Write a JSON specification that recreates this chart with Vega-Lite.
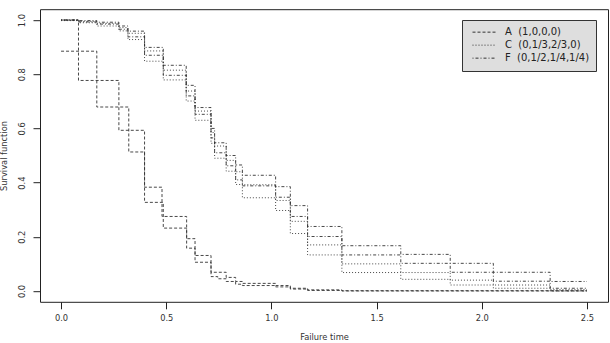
{
  "$schema": "https://vega.github.io/schema/vega-lite/v6.json",
  "width": 568,
  "height": 292.6,
  "autosize": {"type": "none"},
  "padding": {"left": 40, "top": 9.2, "right": 2, "bottom": 41.2},
  "background": "white",
  "config": {
    "view": {"stroke": "#222", "strokeWidth": 1},
    "font": "DejaVu Sans",
    "axis": {
      "domain": false,
      "grid": false,
      "tickColor": "#222",
      "tickSize": 7,
      "labelFont": "DejaVu Sans",
      "labelFontSize": 8.3,
      "labelColor": "#333",
      "titleFont": "DejaVu Sans",
      "titleFontSize": 8.3,
      "titleFontWeight": "normal",
      "titleColor": "#333"
    }
  },
  "data": {
    "values": [
      {"c": "A1", "d": "A\u00a0\u00a0(1,0,0,0)", "t": 0, "s": 1.0},
      {"c": "A1", "d": "A\u00a0\u00a0(1,0,0,0)", "t": 0.083, "s": 0.777},
      {"c": "A1", "d": "A\u00a0\u00a0(1,0,0,0)", "t": 0.275, "s": 0.593},
      {"c": "A1", "d": "A\u00a0\u00a0(1,0,0,0)", "t": 0.397, "s": 0.383},
      {"c": "A1", "d": "A\u00a0\u00a0(1,0,0,0)", "t": 0.48, "s": 0.275},
      {"c": "A1", "d": "A\u00a0\u00a0(1,0,0,0)", "t": 0.597, "s": 0.193},
      {"c": "A1", "d": "A\u00a0\u00a0(1,0,0,0)", "t": 0.637, "s": 0.131},
      {"c": "A1", "d": "A\u00a0\u00a0(1,0,0,0)", "t": 0.713, "s": 0.069},
      {"c": "A1", "d": "A\u00a0\u00a0(1,0,0,0)", "t": 0.785, "s": 0.05},
      {"c": "A1", "d": "A\u00a0\u00a0(1,0,0,0)", "t": 0.83, "s": 0.035},
      {"c": "A1", "d": "A\u00a0\u00a0(1,0,0,0)", "t": 0.862, "s": 0.028},
      {"c": "A1", "d": "A\u00a0\u00a0(1,0,0,0)", "t": 1.02, "s": 0.02},
      {"c": "A1", "d": "A\u00a0\u00a0(1,0,0,0)", "t": 1.09, "s": 0.01},
      {"c": "A1", "d": "A\u00a0\u00a0(1,0,0,0)", "t": 1.172, "s": 0.004},
      {"c": "A1", "d": "A\u00a0\u00a0(1,0,0,0)", "t": 1.335, "s": 0.001},
      {"c": "A1", "d": "A\u00a0\u00a0(1,0,0,0)", "t": 2.5, "s": 0.001},

      {"c": "A2", "d": "A\u00a0\u00a0(1,0,0,0)", "t": 0, "s": 0.885},
      {"c": "A2", "d": "A\u00a0\u00a0(1,0,0,0)", "t": 0.17, "s": 0.679},
      {"c": "A2", "d": "A\u00a0\u00a0(1,0,0,0)", "t": 0.322, "s": 0.513},
      {"c": "A2", "d": "A\u00a0\u00a0(1,0,0,0)", "t": 0.397, "s": 0.327},
      {"c": "A2", "d": "A\u00a0\u00a0(1,0,0,0)", "t": 0.486, "s": 0.232},
      {"c": "A2", "d": "A\u00a0\u00a0(1,0,0,0)", "t": 0.597, "s": 0.158},
      {"c": "A2", "d": "A\u00a0\u00a0(1,0,0,0)", "t": 0.637, "s": 0.106},
      {"c": "A2", "d": "A\u00a0\u00a0(1,0,0,0)", "t": 0.713, "s": 0.053},
      {"c": "A2", "d": "A\u00a0\u00a0(1,0,0,0)", "t": 0.745, "s": 0.045},
      {"c": "A2", "d": "A\u00a0\u00a0(1,0,0,0)", "t": 0.785, "s": 0.035},
      {"c": "A2", "d": "A\u00a0\u00a0(1,0,0,0)", "t": 0.83, "s": 0.025},
      {"c": "A2", "d": "A\u00a0\u00a0(1,0,0,0)", "t": 0.862, "s": 0.02},
      {"c": "A2", "d": "A\u00a0\u00a0(1,0,0,0)", "t": 1.02, "s": 0.015},
      {"c": "A2", "d": "A\u00a0\u00a0(1,0,0,0)", "t": 1.09, "s": 0.007},
      {"c": "A2", "d": "A\u00a0\u00a0(1,0,0,0)", "t": 1.172, "s": 0.002},
      {"c": "A2", "d": "A\u00a0\u00a0(1,0,0,0)", "t": 1.335, "s": 0.0},
      {"c": "A2", "d": "A\u00a0\u00a0(1,0,0,0)", "t": 2.5, "s": 0.0},

      {"c": "F1", "d": "F\u00a0\u00a0(0,1/2,1/4,1/4)", "t": 0, "s": 1.0},
      {"c": "F1", "d": "F\u00a0\u00a0(0,1/2,1/4,1/4)", "t": 0.085, "s": 0.998},
      {"c": "F1", "d": "F\u00a0\u00a0(0,1/2,1/4,1/4)", "t": 0.17, "s": 0.992},
      {"c": "F1", "d": "F\u00a0\u00a0(0,1/2,1/4,1/4)", "t": 0.275, "s": 0.978},
      {"c": "F1", "d": "F\u00a0\u00a0(0,1/2,1/4,1/4)", "t": 0.318, "s": 0.959},
      {"c": "F1", "d": "F\u00a0\u00a0(0,1/2,1/4,1/4)", "t": 0.397, "s": 0.899},
      {"c": "F1", "d": "F\u00a0\u00a0(0,1/2,1/4,1/4)", "t": 0.486, "s": 0.833},
      {"c": "F1", "d": "F\u00a0\u00a0(0,1/2,1/4,1/4)", "t": 0.595, "s": 0.759},
      {"c": "F1", "d": "F\u00a0\u00a0(0,1/2,1/4,1/4)", "t": 0.637, "s": 0.677},
      {"c": "F1", "d": "F\u00a0\u00a0(0,1/2,1/4,1/4)", "t": 0.713, "s": 0.6},
      {"c": "F1", "d": "F\u00a0\u00a0(0,1/2,1/4,1/4)", "t": 0.73, "s": 0.547},
      {"c": "F1", "d": "F\u00a0\u00a0(0,1/2,1/4,1/4)", "t": 0.785, "s": 0.5},
      {"c": "F1", "d": "F\u00a0\u00a0(0,1/2,1/4,1/4)", "t": 0.83, "s": 0.465},
      {"c": "F1", "d": "F\u00a0\u00a0(0,1/2,1/4,1/4)", "t": 0.862, "s": 0.427},
      {"c": "F1", "d": "F\u00a0\u00a0(0,1/2,1/4,1/4)", "t": 1.02, "s": 0.385},
      {"c": "F1", "d": "F\u00a0\u00a0(0,1/2,1/4,1/4)", "t": 1.09, "s": 0.315},
      {"c": "F1", "d": "F\u00a0\u00a0(0,1/2,1/4,1/4)", "t": 1.172, "s": 0.238},
      {"c": "F1", "d": "F\u00a0\u00a0(0,1/2,1/4,1/4)", "t": 1.335, "s": 0.167},
      {"c": "F1", "d": "F\u00a0\u00a0(0,1/2,1/4,1/4)", "t": 1.615, "s": 0.135},
      {"c": "F1", "d": "F\u00a0\u00a0(0,1/2,1/4,1/4)", "t": 1.85, "s": 0.102},
      {"c": "F1", "d": "F\u00a0\u00a0(0,1/2,1/4,1/4)", "t": 2.055, "s": 0.069},
      {"c": "F1", "d": "F\u00a0\u00a0(0,1/2,1/4,1/4)", "t": 2.325, "s": 0.035},
      {"c": "F1", "d": "F\u00a0\u00a0(0,1/2,1/4,1/4)", "t": 2.5, "s": 0.035},

      {"c": "F2", "d": "F\u00a0\u00a0(0,1/2,1/4,1/4)", "t": 0, "s": 1.0},
      {"c": "F2", "d": "F\u00a0\u00a0(0,1/2,1/4,1/4)", "t": 0.085, "s": 0.993},
      {"c": "F2", "d": "F\u00a0\u00a0(0,1/2,1/4,1/4)", "t": 0.17, "s": 0.985},
      {"c": "F2", "d": "F\u00a0\u00a0(0,1/2,1/4,1/4)", "t": 0.275, "s": 0.966},
      {"c": "F2", "d": "F\u00a0\u00a0(0,1/2,1/4,1/4)", "t": 0.318, "s": 0.938},
      {"c": "F2", "d": "F\u00a0\u00a0(0,1/2,1/4,1/4)", "t": 0.397, "s": 0.87},
      {"c": "F2", "d": "F\u00a0\u00a0(0,1/2,1/4,1/4)", "t": 0.486, "s": 0.796},
      {"c": "F2", "d": "F\u00a0\u00a0(0,1/2,1/4,1/4)", "t": 0.595, "s": 0.72},
      {"c": "F2", "d": "F\u00a0\u00a0(0,1/2,1/4,1/4)", "t": 0.637, "s": 0.652},
      {"c": "F2", "d": "F\u00a0\u00a0(0,1/2,1/4,1/4)", "t": 0.713, "s": 0.565},
      {"c": "F2", "d": "F\u00a0\u00a0(0,1/2,1/4,1/4)", "t": 0.73, "s": 0.51},
      {"c": "F2", "d": "F\u00a0\u00a0(0,1/2,1/4,1/4)", "t": 0.785, "s": 0.462},
      {"c": "F2", "d": "F\u00a0\u00a0(0,1/2,1/4,1/4)", "t": 0.83, "s": 0.41},
      {"c": "F2", "d": "F\u00a0\u00a0(0,1/2,1/4,1/4)", "t": 0.862, "s": 0.388},
      {"c": "F2", "d": "F\u00a0\u00a0(0,1/2,1/4,1/4)", "t": 1.02, "s": 0.346},
      {"c": "F2", "d": "F\u00a0\u00a0(0,1/2,1/4,1/4)", "t": 1.09, "s": 0.275},
      {"c": "F2", "d": "F\u00a0\u00a0(0,1/2,1/4,1/4)", "t": 1.172, "s": 0.201},
      {"c": "F2", "d": "F\u00a0\u00a0(0,1/2,1/4,1/4)", "t": 1.335, "s": 0.133},
      {"c": "F2", "d": "F\u00a0\u00a0(0,1/2,1/4,1/4)", "t": 1.615, "s": 0.102},
      {"c": "F2", "d": "F\u00a0\u00a0(0,1/2,1/4,1/4)", "t": 1.85, "s": 0.069},
      {"c": "F2", "d": "F\u00a0\u00a0(0,1/2,1/4,1/4)", "t": 2.055, "s": 0.036},
      {"c": "F2", "d": "F\u00a0\u00a0(0,1/2,1/4,1/4)", "t": 2.325, "s": 0.01},
      {"c": "F2", "d": "F\u00a0\u00a0(0,1/2,1/4,1/4)", "t": 2.5, "s": 0.01},

      {"c": "C1", "d": "C\u00a0\u00a0(0,1/3,2/3,0)", "t": 0, "s": 1.0},
      {"c": "C1", "d": "C\u00a0\u00a0(0,1/3,2/3,0)", "t": 0.085, "s": 0.995},
      {"c": "C1", "d": "C\u00a0\u00a0(0,1/3,2/3,0)", "t": 0.17, "s": 0.988},
      {"c": "C1", "d": "C\u00a0\u00a0(0,1/3,2/3,0)", "t": 0.275, "s": 0.972},
      {"c": "C1", "d": "C\u00a0\u00a0(0,1/3,2/3,0)", "t": 0.318, "s": 0.951},
      {"c": "C1", "d": "C\u00a0\u00a0(0,1/3,2/3,0)", "t": 0.397, "s": 0.886},
      {"c": "C1", "d": "C\u00a0\u00a0(0,1/3,2/3,0)", "t": 0.486, "s": 0.815},
      {"c": "C1", "d": "C\u00a0\u00a0(0,1/3,2/3,0)", "t": 0.595, "s": 0.738},
      {"c": "C1", "d": "C\u00a0\u00a0(0,1/3,2/3,0)", "t": 0.637, "s": 0.664},
      {"c": "C1", "d": "C\u00a0\u00a0(0,1/3,2/3,0)", "t": 0.713, "s": 0.585},
      {"c": "C1", "d": "C\u00a0\u00a0(0,1/3,2/3,0)", "t": 0.73, "s": 0.535},
      {"c": "C1", "d": "C\u00a0\u00a0(0,1/3,2/3,0)", "t": 0.785, "s": 0.482},
      {"c": "C1", "d": "C\u00a0\u00a0(0,1/3,2/3,0)", "t": 0.83, "s": 0.44},
      {"c": "C1", "d": "C\u00a0\u00a0(0,1/3,2/3,0)", "t": 0.862, "s": 0.392},
      {"c": "C1", "d": "C\u00a0\u00a0(0,1/3,2/3,0)", "t": 1.02, "s": 0.334},
      {"c": "C1", "d": "C\u00a0\u00a0(0,1/3,2/3,0)", "t": 1.09, "s": 0.257},
      {"c": "C1", "d": "C\u00a0\u00a0(0,1/3,2/3,0)", "t": 1.172, "s": 0.17},
      {"c": "C1", "d": "C\u00a0\u00a0(0,1/3,2/3,0)", "t": 1.335, "s": 0.1},
      {"c": "C1", "d": "C\u00a0\u00a0(0,1/3,2/3,0)", "t": 1.615, "s": 0.068},
      {"c": "C1", "d": "C\u00a0\u00a0(0,1/3,2/3,0)", "t": 1.85, "s": 0.04},
      {"c": "C1", "d": "C\u00a0\u00a0(0,1/3,2/3,0)", "t": 2.055, "s": 0.022},
      {"c": "C1", "d": "C\u00a0\u00a0(0,1/3,2/3,0)", "t": 2.325, "s": 0.005},
      {"c": "C1", "d": "C\u00a0\u00a0(0,1/3,2/3,0)", "t": 2.5, "s": 0.005},

      {"c": "C2", "d": "C\u00a0\u00a0(0,1/3,2/3,0)", "t": 0, "s": 0.998},
      {"c": "C2", "d": "C\u00a0\u00a0(0,1/3,2/3,0)", "t": 0.085, "s": 0.99},
      {"c": "C2", "d": "C\u00a0\u00a0(0,1/3,2/3,0)", "t": 0.17, "s": 0.978},
      {"c": "C2", "d": "C\u00a0\u00a0(0,1/3,2/3,0)", "t": 0.275, "s": 0.96},
      {"c": "C2", "d": "C\u00a0\u00a0(0,1/3,2/3,0)", "t": 0.318, "s": 0.928},
      {"c": "C2", "d": "C\u00a0\u00a0(0,1/3,2/3,0)", "t": 0.397, "s": 0.848},
      {"c": "C2", "d": "C\u00a0\u00a0(0,1/3,2/3,0)", "t": 0.486, "s": 0.779},
      {"c": "C2", "d": "C\u00a0\u00a0(0,1/3,2/3,0)", "t": 0.595, "s": 0.701},
      {"c": "C2", "d": "C\u00a0\u00a0(0,1/3,2/3,0)", "t": 0.637, "s": 0.63},
      {"c": "C2", "d": "C\u00a0\u00a0(0,1/3,2/3,0)", "t": 0.713, "s": 0.545},
      {"c": "C2", "d": "C\u00a0\u00a0(0,1/3,2/3,0)", "t": 0.73, "s": 0.49},
      {"c": "C2", "d": "C\u00a0\u00a0(0,1/3,2/3,0)", "t": 0.785, "s": 0.442},
      {"c": "C2", "d": "C\u00a0\u00a0(0,1/3,2/3,0)", "t": 0.83, "s": 0.393},
      {"c": "C2", "d": "C\u00a0\u00a0(0,1/3,2/3,0)", "t": 0.862, "s": 0.344},
      {"c": "C2", "d": "C\u00a0\u00a0(0,1/3,2/3,0)", "t": 1.02, "s": 0.297},
      {"c": "C2", "d": "C\u00a0\u00a0(0,1/3,2/3,0)", "t": 1.09, "s": 0.212},
      {"c": "C2", "d": "C\u00a0\u00a0(0,1/3,2/3,0)", "t": 1.172, "s": 0.133},
      {"c": "C2", "d": "C\u00a0\u00a0(0,1/3,2/3,0)", "t": 1.335, "s": 0.068},
      {"c": "C2", "d": "C\u00a0\u00a0(0,1/3,2/3,0)", "t": 1.615, "s": 0.043},
      {"c": "C2", "d": "C\u00a0\u00a0(0,1/3,2/3,0)", "t": 1.85, "s": 0.022},
      {"c": "C2", "d": "C\u00a0\u00a0(0,1/3,2/3,0)", "t": 2.055, "s": 0.01},
      {"c": "C2", "d": "C\u00a0\u00a0(0,1/3,2/3,0)", "t": 2.325, "s": 0.0},
      {"c": "C2", "d": "C\u00a0\u00a0(0,1/3,2/3,0)", "t": 2.5, "s": 0.0}
    ]
  },
  "mark": {"type": "line", "interpolate": "step-after", "stroke": "#333", "strokeWidth": 0.9},
  "encoding": {
    "x": {
      "field": "t",
      "type": "quantitative",
      "scale": {"domain": [-0.1, 2.6], "nice": false, "zero": false},
      "axis": {
        "values": [0, 0.5, 1, 1.5, 2, 2.5],
        "format": ".1f",
        "labelPadding": 4.5,
        "title": "Failure time",
        "titleY": 38,
        "titleBaseline": "alphabetic"
      }
    },
    "y": {
      "field": "s",
      "type": "quantitative",
      "scale": {"domain": [-0.04, 1.04], "nice": false, "zero": false},
      "axis": {
        "values": [0, 0.2, 0.4, 0.6, 0.8, 1],
        "format": ".1f",
        "labelAngle": -90,
        "labelAlign": "center",
        "labelBaseline": "bottom",
        "labelPadding": 6.3,
        "title": "Survival function",
        "titleAngle": -90,
        "titleAlign": "center",
        "titleBaseline": "alphabetic",
        "titleX": -33.5,
        "titleY": 146.3
      }
    },
    "detail": {"field": "c"},
    "strokeDash": {
      "field": "d",
      "type": "nominal",
      "scale": {
        "domain": ["A\u00a0\u00a0(1,0,0,0)", "C\u00a0\u00a0(0,1/3,2/3,0)", "F\u00a0\u00a0(0,1/2,1/4,1/4)"],
        "range": [[3, 2], [1, 2], [1, 2, 3, 2]]
      },
      "legend": {
        "title": null,
        "orient": "none",
        "legendX": 422,
        "legendY": 10.8,
        "fillColor": "#dedede",
        "strokeColor": "#333",
        "padding": 6,
        "symbolType": "stroke",
        "symbolSize": 529,
        "symbolStrokeWidth": 1,
        "symbolStrokeColor": "#333",
        "symbolOffset": 4,
        "labelOffset": 9,
        "labelFont": "DejaVu Sans",
        "labelFontSize": 10,
        "labelColor": "#222",
        "clipHeight": 12.3,
        "rowPadding": 0
      }
    }
  }
}
